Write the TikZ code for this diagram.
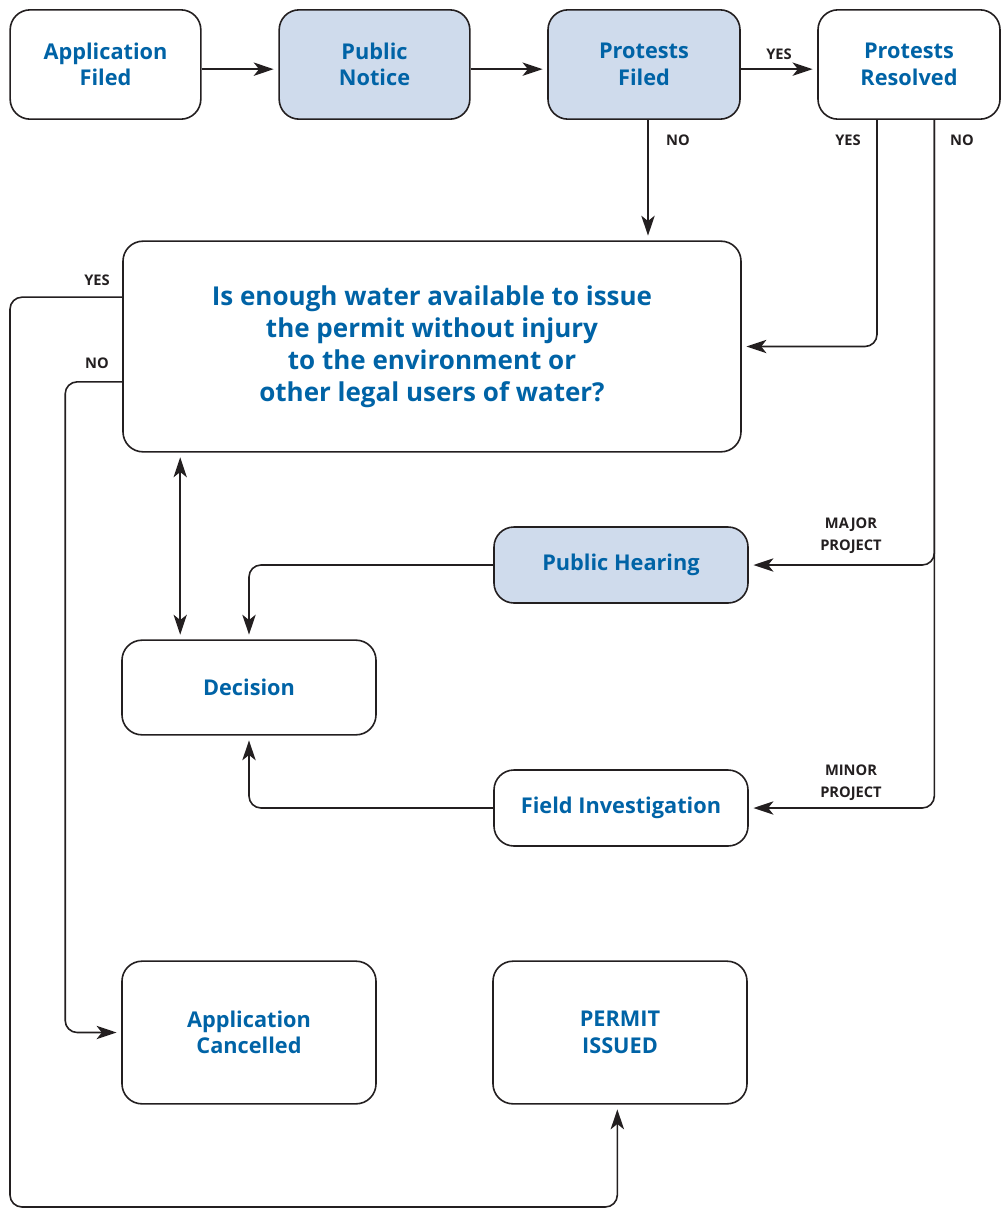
\documentclass[tikz,border=0pt]{standalone}
\usepackage{fontspec}
\setmainfont{Open Sans}[BoldFont={Open Sans Bold}]
\usepackage{xcolor}
\usepackage{tikz}
\usetikzlibrary{arrows.meta,positioning,shapes}

\definecolor{flowblue}{RGB}{0,99,166}
\definecolor{flowfill}{RGB}{207,219,236}
\definecolor{flowline}{RGB}{35,31,32}

\begin{document}
\begin{tikzpicture}[x=0.75pt,y=-0.75pt,
  box/.style={rectangle,rounded corners=15pt,draw=flowline,line width=1.2pt,
    align=center,text=flowblue,font=\bfseries\fontsize{16.3}{20}\selectfont},
  shaded/.style={box,fill=flowfill},
  tip/.tip={Stealth[length=15pt,width=10pt,inset=4pt]},
  arr/.style={draw=flowline,line width=1.2pt,rounded corners=9pt,-tip,shorten >=3.5pt},
  arr2/.style={arr,tip-tip,shorten <=3.5pt},
  lbl/.style={font=\bfseries\fontsize{11}{16.5}\selectfont,text=flowline,align=center}]
  \useasboundingbox (0,0) rectangle (1001,1211);
  % top row
  \node[box,minimum width=143pt,minimum height=82pt] (af) at (105.5,64.5) {Application\\Filed};
  \node[shaded,minimum width=143pt,minimum height=82pt] (pn) at (374.5,64.5) {Public\\Notice};
  \node[shaded,minimum width=144pt,minimum height=82pt] (pf) at (644,64.5) {Protests\\Filed};
  \node[box,minimum width=136.5pt,minimum height=82pt] (pr) at (909,64.5) {Protests\\Resolved};
  % question
  \node[box,minimum width=463.5pt,minimum height=158pt,
    font=\bfseries\fontsize{19.5}{24}\selectfont] (q) at (432,346.5)
    {Is enough water available to issue\\the permit without injury\\to the environment or\\other legal users of water?};
  % middle
  \node[shaded,minimum width=190.5pt,minimum height=57pt] (ph) at (621,565) {Public Hearing};
  \node[box,minimum width=190.5pt,minimum height=71pt] (dec) at (249,687.5) {Decision};
  \node[box,minimum width=190.5pt,minimum height=57pt] (fi) at (621,808) {Field Investigation};
  % bottom
  \node[box,minimum width=190.5pt,minimum height=107pt] (ac) at (249,1032.5) {Application\\Cancelled};
  \node[box,minimum width=190.5pt,minimum height=107pt] (pi) at (620,1032.5) {PERMIT\\ISSUED};

  % connectors
  \draw[arr] ([yshift=-3.5pt]af.east) -- ([yshift=-3.5pt]pn.west);
  \draw[arr] ([yshift=-3.5pt]pn.east) -- ([yshift=-3.5pt]pf.west);
  \draw[arr] ([yshift=-3.5pt]pf.east) -- node[lbl,above=3pt] (yes1) {YES} ([yshift=-3.5pt]pr.west);
  \draw[arr] ([xshift=3pt]pf.south) -- ([xshift=3pt]pf.south |- q.north);
  \draw[arr] ([xshift=-24pt]pr.south) |- (q.east);
  \draw[arr] ([xshift=19pt]pr.south) |- (ph.east);
  \draw[arr] ([xshift=19pt]pr.south) |- (fi.east);
  \draw[arr] ([yshift=37pt]q.west) -| (10,1207) -| ([xshift=-2pt]pi.south);
  \draw[arr] ([yshift=-26.5pt]q.west) -| ([xshift=-42pt]ac.west) -- (ac.west);
  \draw[arr2] ([xshift=-51.6pt]dec.north) -- ([xshift=-51.6pt]dec.north |- q.south);
  \draw[arr] (ph.west) -| (dec.north);
  \draw[arr] (fi.west) -| (dec.south);

  % labels
  \node[lbl] (no1) at (678,140) {NO};
  \node[lbl] (yes2) at (848,140) {YES};
  \node[lbl] (no2) at (962,140) {NO};
  \node[lbl] (yes3) at (97,280) {YES};
  \node[lbl] (no3) at (97,363) {NO};
  \node[lbl] (major) at (851,536) {MAJOR\\PROJECT};
  \node[lbl] (minor) at (851,783) {MINOR\\PROJECT};
\end{tikzpicture}
\end{document}
